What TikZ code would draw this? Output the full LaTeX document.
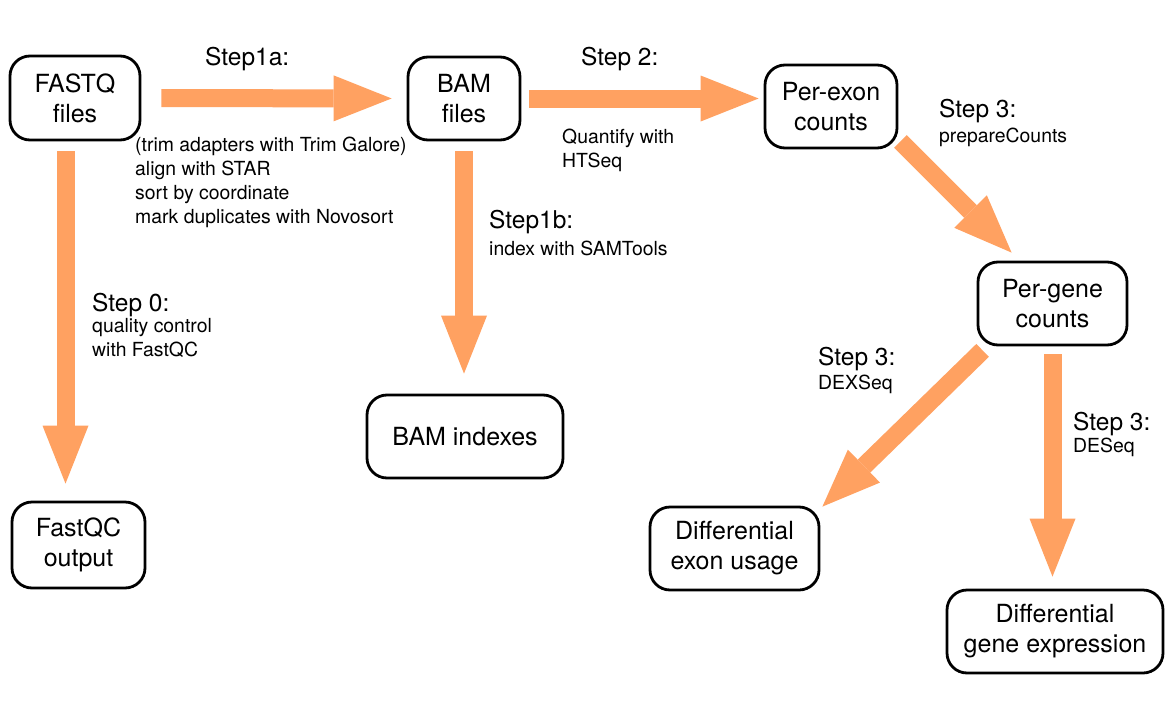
\documentclass[tikz,border=0pt]{standalone}
\usepackage{fontspec}
\setmainfont{TeX Gyre Heros}
\usetikzlibrary{arrows.meta,calc}
\definecolor{arrowc}{RGB}{255,161,97}
\newcommand\bxfont{\fontsize{25}{30}\selectfont}
\newcommand\stfont{\fontsize{24.5}{28}\selectfont}
\newcommand\dsfont{\fontsize{19.4}{24}\selectfont}
\newcommand\lines[1]{\begin{tabular}[t]{@{}l@{}}#1\end{tabular}}
\begin{document}
\begin{tikzpicture}[x=1pt,y=-1pt,
  box/.style={draw, line width=2.8pt, rounded corners=20pt, align=center, font=\bxfont, inner sep=0pt},
  flow/.style={draw=arrowc, line width=18pt, -{Triangle[length=58pt,width=46pt,line width=0pt]}},
  steplbl/.style={anchor=base west, inner sep=0pt, font=\stfont},
  desc/.style={anchor=base west, inner sep=0pt, font=\dsfont}]
\fill[white] (0,0) rectangle (1173,715);
\useasboundingbox (0,0) rectangle (1173,715);
% boxes
\node[box, minimum width=130pt, minimum height=84pt] (fastq) at (75,98) {FASTQ\\files};
\node[box, minimum width=112pt, minimum height=83pt] (bam) at (464,98.5) {BAM\\files};
\node[box, minimum width=132pt, minimum height=83pt] (exon) at (831,106.5) {Per-exon\\counts};
\node[box, minimum width=149pt, minimum height=83pt] (gene) at (1052.5,303.5) {Per-gene\\counts};
\node[box, minimum width=169pt, minimum height=83pt] (dexu) at (734.5,548.5) {Differential\\exon usage};
\node[box, minimum width=216pt, minimum height=83pt] (dge) at (1055,631.5) {Differential\\gene expression};
\node[box, minimum width=133pt, minimum height=86pt] (fqc) at (78.5,545) {FastQC\\output};
\node[box, minimum width=196pt, minimum height=83pt] (idx) at (465,436.5) {BAM indexes};
% arrows
\draw[flow, shorten <=20pt, shorten >=15pt] (fastq.east) -- (bam.west);
\draw[flow, shorten <=8pt, shorten >=5pt] (bam.east) -- (bam.east -| exon.west);
\draw[flow, shorten <=10pt, shorten >=17pt] ([xshift=-9.5pt]fastq.south) -- ([xshift=-9.5pt]fastq.south |- fqc.north);
\draw[flow, shorten <=10pt, shorten >=20pt] (bam.south) -- (bam.south |- idx.north);
\draw[flow] ([shift={(2,-8)}]exon.south east) -- ([shift={(35,-8)}]gene.north west);
\draw[flow] ([shift={(6,4)}]gene.south west) -- ([shift={(2,1)}]dexu.north east);
\draw[flow, shorten <=8pt, shorten >=12pt] (gene.south) -- (gene.south |- dge.north);
% labels
\node[steplbl] (l1a) at (205,65) {Step1a:};
\node[desc] (d1a) at (135,151) {\lines{(trim adapters with Trim Galore)\\align with STAR\\sort by coordinate\\mark duplicates with Novosort}};
\node[steplbl] (l2) at (581,65) {Step 2:};
\node[desc] (d2) at (562,143) {\lines{Quantify with\\HTSeq}};
\node[steplbl] (l1b) at (489,228) {Step1b:};
\node[desc] (d1b) at (489,255) {index with SAMTools};
\node[steplbl] (l0) at (92,311) {Step 0:};
\node[desc] (d0) at (92,332) {\lines{quality control\\with FastQC}};
\node[steplbl] (l3a) at (939,117) {Step 3:};
\node[desc] (d3a) at (939,142) {prepareCounts};
\node[steplbl] (l3b) at (818,365) {Step 3:};
\node[desc] (d3b) at (818,389) {DEXSeq};
\node[steplbl] (l3c) at (1073,430) {Step 3:};
\node[desc] (d3c) at (1073,452) {DESeq};
\end{tikzpicture}
\end{document}
